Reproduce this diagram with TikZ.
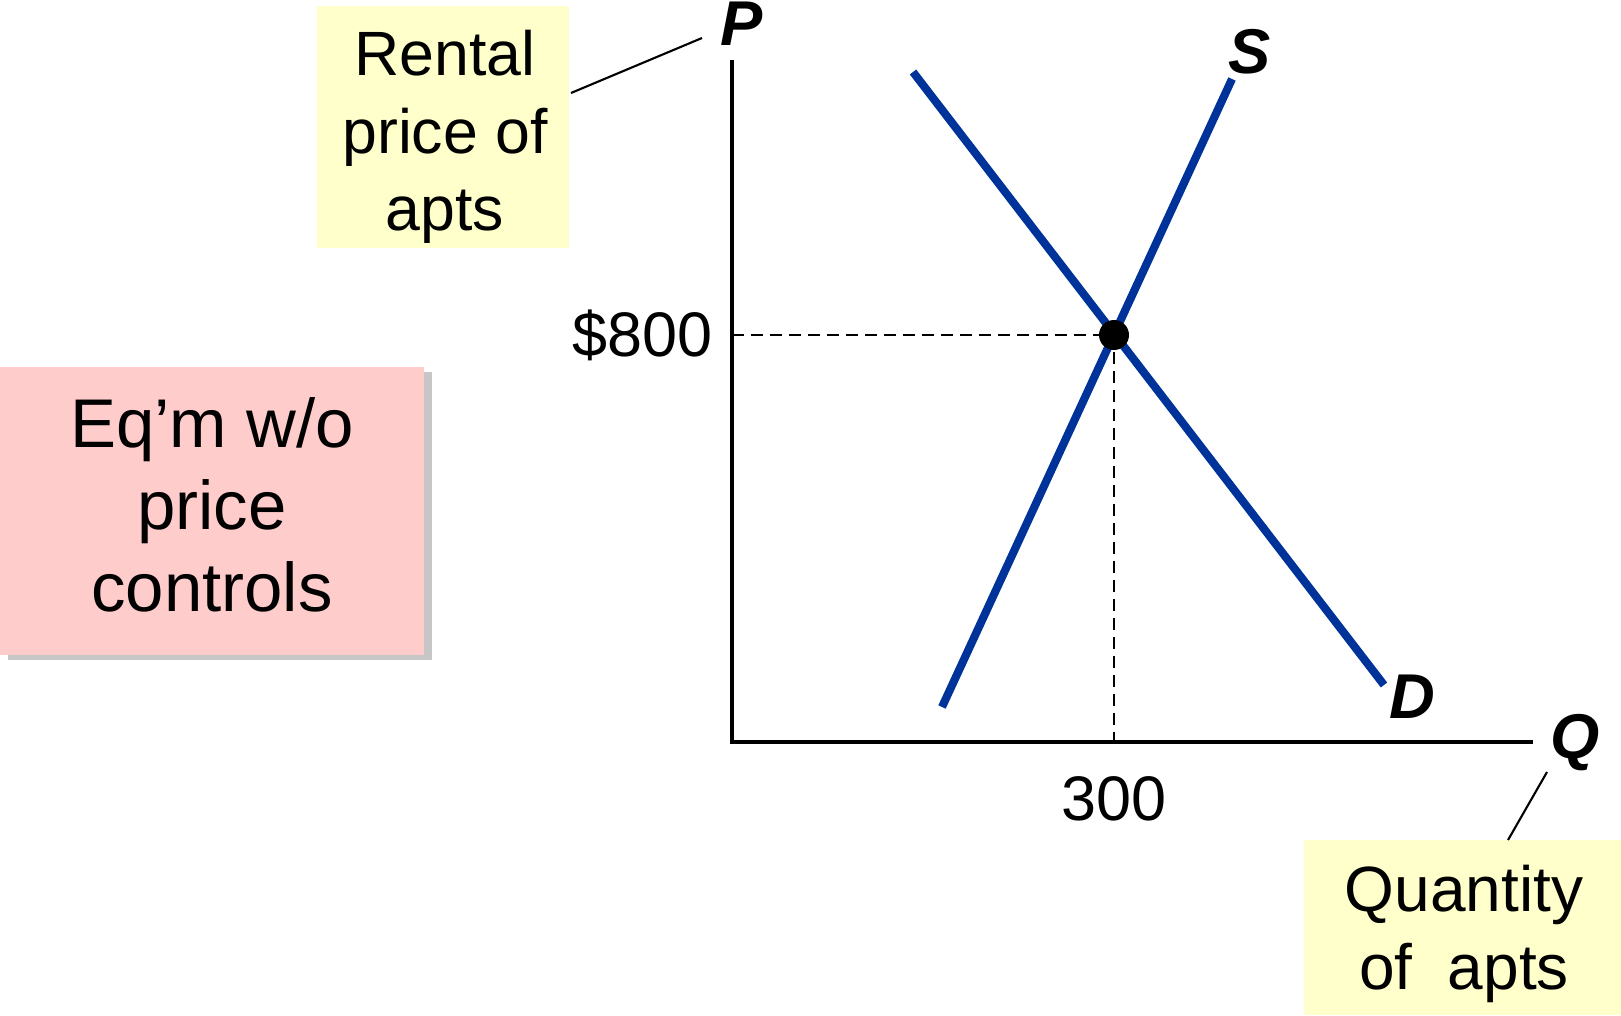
\documentclass[tikz,border=0pt]{standalone}
\usepackage{fontspec}
\setmainfont{Liberation Sans}
\usepackage{xcolor}
\usetikzlibrary{positioning}
\definecolor{curveblue}{HTML}{003399}
\definecolor{noteyellow}{HTML}{FFFFCC}
\definecolor{notepink}{HTML}{FFCCCC}

\begin{document}
\begin{tikzpicture}[x=0.01cm, y=-0.01cm,
	curve/.style={line width=2.3pt, curveblue},
	axis/.style={line width=0.9pt},
	guide/.style={line width=0.6pt, dash pattern=on 0.12cm off 0.07cm},
	axislabel/.style={font=\fontsize{18}{20}\selectfont\bfseries\itshape, inner sep=0pt},
	ticklabel/.style={font=\fontsize{17.9}{20}\selectfont, inner sep=0pt},
	note/.style={inner sep=0pt, align=center}]
			\useasboundingbox (0,0) rectangle (1621,1015);
			
			% origem, eixos
			\coordinate (O) at (732,742);
			\coordinate (Ptop) at (732,60);
			\coordinate (Qend) at (1533,742);
			
			% equilibrio
			\coordinate (E) at (1114,335);
			\coordinate (Pk) at (732,335);
			\coordinate (Qk) at (1114,742);
			
			% pontas de S e D
			\coordinate (S1) at (942,707);
			\coordinate (S2) at (1232,79);
			\coordinate (D1) at (913,72);
			\coordinate (D2) at (1384,685);
			
			% pontas dos fios
			\coordinate (pfoot) at (571,93);
			\coordinate (ptip) at (702,38);
			\coordinate (qtip) at (1547,772);
			\coordinate (qfoot) at (1508,840);
			
			% caixas
			\fill[noteyellow] (317,6) rectangle (569,248);
			\node[note, font=\fontsize{17.8}{22}\selectfont] (rental) at (445,137) {Rental\\price of\\apts};
			\fill[gray!45] (8,372) rectangle (432,660);
			\fill[notepink] (0,367) rectangle (424,655);
			\node[note, font=\fontsize{19.6}{23.4}\selectfont] (eqm) at (212,505) {Eq’m w/o\\price\\controls};
			\fill[noteyellow] (1304,840) rectangle (1621,1015);
			\node[note, font=\fontsize{18.2}{22}\selectfont] (quantity) at (1464,934) {Quantity\\of\ \ apts};
			
			% eixos
			\draw[axis] (Ptop)--(O)--(Qend);
			
			% tracejado
			\draw[guide] (Pk)--(E)--(Qk);
			
			% curvas S, D
			\draw[curve] (S1)--(S2);
			\draw[curve] (D1)--(D2);
			
			% ponto
			\fill (E) circle (15);
			
			% rotulos
			\node[axislabel] (P) at (742,24) {P};
			\node[axislabel] (Q) at (1575,743) {Q};
			\node[axislabel] (S) at (1250,52) {S};
			\node[axislabel] (D) at (1412,697) {D};
			\node[ticklabel, left=0.19cm of Pk] (p800) {\$800};
			\node[ticklabel, below=0.34cm of Qk] (q300) {300};
			
			% fios
			\draw[line width=0.6pt] (pfoot)--(ptip);
			\draw[line width=0.6pt] (qtip)--(qfoot);
		\end{tikzpicture}
\end{document}
